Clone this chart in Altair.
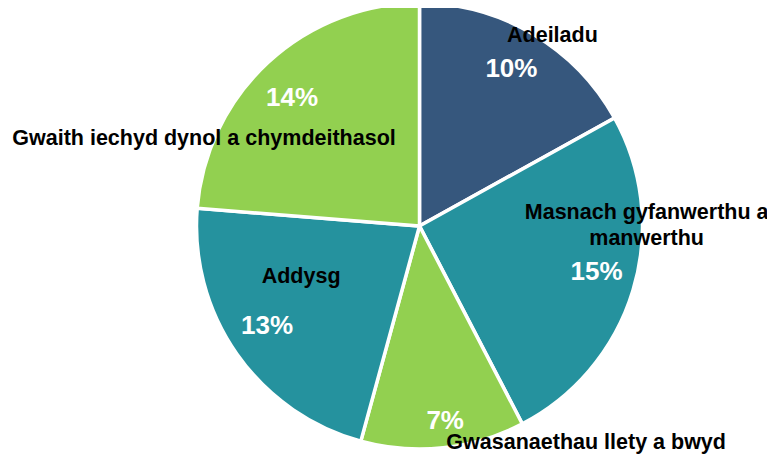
import altair as alt
import pandas as pd

CATEGORIES = [
    "Adeiladu",
    "Masnach gyfanwerthu a manwerthu",
    "Gwasanaethau llety a bwyd",
    "Addysg",
    "Gwaith iechyd dynol a chymdeithasol",
]
VALUES = [10, 15, 7, 13, 14]
PCT_LABELS = ["10%", "15%", "7%", "13%", "14%"]

# styles
COLORS = ["#36577D", "#25929E", "#92D050", "#25929E", "#92D050"]
FONT = "Liberation Sans"
WRAPPED = {"Masnach gyfanwerthu a manwerthu": ["Masnach gyfanwerthu a", "manwerthu"]}
# label offsets (dx, dy) relative to slice mid-angle at the label radius
PCT_OFFSETS = {
    "Adeiladu": (-2, 2),
    "Masnach gyfanwerthu a manwerthu": (0, -7),
    "Gwasanaethau llety a bwyd": (6, 11),
    "Addysg": (-1, -6),
    "Gwaith iechyd dynol a chymdeithasol": (-2, 8),
}
NAME_OFFSETS = {
    "Adeiladu": (39, -31),
    "Masnach gyfanwerthu a manwerthu": (50, -66),
    "Gwasanaethau llety a bwyd": (147, 33),
    "Addysg": (33, -55),
    "Gwaith iechyd dynol a chymdeithasol": (-90, 49),
}

df = pd.DataFrame({
    "cat": CATEGORIES,
    "value": VALUES,
    "pct": PCT_LABELS,
    "idx": list(range(len(CATEGORIES))),
})

TOTAL = sum(VALUES)
theta_scale = alt.Scale(domain=[0, TOTAL])

base = alt.Chart(df)

pie = base.mark_arc(outerRadius=223, stroke="white", strokeWidth=3.5).encode(
    theta=alt.Theta("value:Q", stack=True, scale=theta_scale),
    color=alt.Color("cat:N", scale=alt.Scale(domain=CATEGORIES, range=COLORS), legend=None),
    order=alt.Order("idx:Q"),
)

mid_base = base.transform_window(
    cum="sum(value)", sort=[alt.SortField("idx")], frame=[None, 0]
).transform_calculate(mid="datum.cum - datum.value / 2")

layers = [pie]
for cat in CATEGORIES:
    lb = mid_base.transform_filter(alt.datum.cat == cat)
    pdx, pdy = PCT_OFFSETS[cat]
    ndx, ndy = NAME_OFFSETS[cat]
    pct = lb.mark_text(
        font=FONT, fontSize=26, fontWeight="bold", color="white",
        radius=185, dx=pdx, dy=pdy, baseline="middle", align="center",
    ).encode(
        theta=alt.Theta("mid:Q", stack=None, scale=theta_scale),
        text=alt.Text("pct:N"),
    )
    text_enc = alt.value(WRAPPED[cat]) if cat in WRAPPED else alt.Text("cat:N")
    name = lb.mark_text(
        font=FONT, fontSize=21.5, fontWeight="bold", color="black",
        radius=185, dx=ndx, dy=ndy, baseline="middle", align="center", lineHeight=26,
    ).encode(
        theta=alt.Theta("mid:Q", stack=None, scale=theta_scale),
        text=text_enc,
    )
    layers += [pct, name]

chart = alt.layer(*layers).properties(
    width=695,
    height=434,
    padding={"left": 64, "top": 1, "right": 0, "bottom": 20},
    autosize=alt.AutoSizeParams(type="none"),
).configure_view(stroke=None)

chart.save("out.html", embed_options={"renderer": "svg", "actions": False})
